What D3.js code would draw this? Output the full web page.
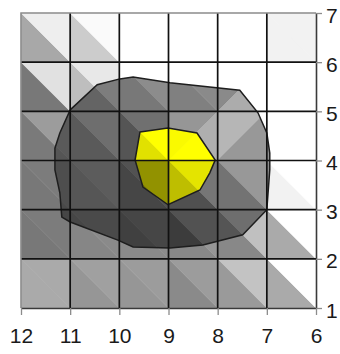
<!DOCTYPE html>
<html>
<head>
<meta charset="utf-8">
<script src="https://cdn.jsdelivr.net/npm/d3@7"></script>
<style>
  html, body { margin: 0; padding: 0; background: #fff; }
  svg { display: block; }
  .tick text { font-family: "Liberation Sans", Arial, sans-serif; font-size: 21px; fill: #1a1a1a; }
</style>
</head>
<body>
<svg id="chart" width="340" height="354"></svg>
<script>
// ---- data ----
const xTicks = [12, 11, 10, 9, 8, 7, 6];
const yTicks = [1, 2, 3, 4, 5, 6, 7];

// cell diagonal per row (top -> bottom), per column (left -> right): b = "\" , f = "/"
const diagonals = [
  "bbbbbb",
  "bbbbfb",
  "bbbffb",
  "bbbbbb",
  "bbbbbb",
  "bbbbbb"
];

// shading (0-255) per cell: [first triangle, second triangle]
// "\" : first = lower-left, second = upper-right ; "/" : first = upper-left, second = lower-right
const outerShade = [
  [[168, 238], [204, 250], [255, 255], [255, 255], [255, 255], [242, 242]],
  [[120, 225], [190, 232], [255, 255], [255, 255], [255, 255], [255, 255]],
  [[122, 156], [150, 200], [200, 230], [230, 255], [255, 255], [255, 255]],
  [[120, 124], [130, 140], [140, 150], [150, 190], [170, 230], [242, 255]],
  [[120, 124], [134, 138], [138, 140], [136, 150], [136, 192], [170, 255]],
  [[170, 170], [150, 160], [150, 156], [138, 156], [154, 195], [170, 255]]
];
const middleShade = [
  [[100, 120], [100, 125], [120, 140], [128, 138], [138, 170], [150, 150]],
  [[100, 120], [100, 125], [120, 140], [128, 138], [138, 172], [150, 150]],
  [[85, 90], [90, 110], [85, 112], [150, 175], [182, 152], [145, 152]],
  [[74, 78], [86, 92], [70, 82], [80, 118], [115, 152], [140, 150]],
  [[68, 70], [70, 74], [64, 70], [60, 82], [85, 110], [140, 150]],
  [[68, 70], [70, 74], [64, 70], [60, 82], [85, 110], [140, 150]]
];
const yellowShade = [
  [[255, 255], [255, 255], [255, 255], [255, 255], [255, 255], [255, 255]],
  [[255, 255], [255, 255], [255, 255], [255, 255], [255, 255], [255, 255]],
  [[255, 255], [255, 255], [225, 255], [250, 255], [255, 255], [255, 255]],
  [[150, 150], [150, 150], [122, 146], [190, 228], [255, 255], [255, 255]],
  [[150, 150], [150, 150], [150, 150], [150, 150], [150, 150], [150, 150]],
  [[150, 150], [150, 150], [150, 150], [150, 150], [150, 150], [150, 150]]
];

// contour band outlines (x, y in data units)
const outerBand = [
  [11.0, 5.03], [10.45, 5.54], [9.99, 5.66], [9.72, 5.70], [8.97, 5.58], [7.55, 5.43],
  [7.18, 4.97], [7.0, 4.56], [6.94, 4.15], [6.94, 3.81], [7.0, 3.0], [7.49, 2.49],
  [8.30, 2.28], [8.97, 2.22], [9.72, 2.24], [10.03, 2.38], [11.0, 2.75], [11.17, 2.85],
  [11.21, 3.34], [11.31, 3.81], [11.31, 4.25], [11.21, 4.56]
];
const innerBand = [
  [9.58, 4.58], [9.01, 4.66], [8.42, 4.56], [8.05, 4.01], [8.16, 3.75],
  [8.36, 3.40], [9.01, 3.10], [9.52, 3.46], [9.68, 4.01]
];

// ---- drawing ----
const svg = d3.select("#chart");
const x = d3.scaleLinear().domain([12, 6]).range([21, 316]);
const y = d3.scaleLinear().domain([1, 7]).range([308, 13]);

const cells = [];
for (let r = 0; r < 6; r++) {
  for (let c = 0; c < 6; c++) {
    const x0 = xTicks[c], x1 = xTicks[c + 1];
    const yTop = yTicks[6 - r], yBot = yTicks[5 - r];
    const TL = [x0, yTop], TR = [x1, yTop], BL = [x0, yBot], BR = [x1, yBot];
    if (diagonals[r][c] === "b") {
      cells.push({ r, c, k: 0, pts: [TL, BL, BR] });
      cells.push({ r, c, k: 1, pts: [TL, TR, BR] });
    } else {
      cells.push({ r, c, k: 0, pts: [TL, TR, BL] });
      cells.push({ r, c, k: 1, pts: [TR, BR, BL] });
    }
  }
}
const toPath = pts => "M" + pts.map(p => x(p[0]) + "," + y(p[1])).join("L") + "Z";
const gray = v => d3.rgb(v, v, v).toString();
const yel = v => d3.rgb(v, v, 0).toString();

const defs = svg.append("defs");
defs.append("clipPath").attr("id", "clipOuter").append("path").attr("d", toPath(outerBand));
defs.append("clipPath").attr("id", "clipInner").append("path").attr("d", toPath(innerBand));

function layer(shade, colorFn, clip) {
  const g = svg.append("g");
  if (clip) g.attr("clip-path", `url(#${clip})`);
  g.selectAll("path").data(cells).join("path")
    .attr("d", d => toPath(d.pts))
    .attr("fill", d => colorFn(shade[d.r][d.c][d.k]))
    .attr("stroke", d => colorFn(shade[d.r][d.c][d.k]))
    .attr("stroke-width", 0.6);
}
layer(outerShade, gray, null);
layer(middleShade, gray, "clipOuter");
svg.append("path").attr("d", toPath(outerBand))
  .attr("fill", "none").attr("stroke", "#1e1e1e").attr("stroke-width", 1.5);
layer(yellowShade, yel, "clipInner");
svg.append("path").attr("d", toPath(innerBand))
  .attr("fill", "none").attr("stroke", "#1e1e1e").attr("stroke-width", 1.5);

// grid lines
const grid = svg.append("g").attr("stroke", "#111").attr("stroke-width", 1.7);
grid.selectAll("line.v").data(xTicks.slice(1, -1)).join("line").attr("class", "v")
  .attr("x1", d => x(d)).attr("x2", d => x(d)).attr("y1", y(7)).attr("y2", y(1));
grid.selectAll("line.h").data(yTicks.slice(1, -1)).join("line").attr("class", "h")
  .attr("y1", d => y(d)).attr("y2", d => y(d)).attr("x1", x(12)).attr("x2", x(6));

// frame top/left
svg.append("path")
  .attr("d", `M${x(12)},${y(1)}V${y(7)}H${x(6)}`)
  .attr("fill", "none").attr("stroke", "#8c8c8c").attr("stroke-width", 1.5);

// axes
const xAxis = svg.append("g").attr("transform", `translate(0,${y(1)})`)
  .call(d3.axisBottom(x).tickValues(xTicks).tickFormat(d3.format("d"))
    .tickSize(7).tickSizeOuter(0).tickPadding(13));
const yAxis = svg.append("g").attr("transform", `translate(${x(6)},0)`)
  .call(d3.axisRight(y).tickValues(yTicks).tickFormat(d3.format("d"))
    .tickSize(6).tickSizeOuter(0).tickPadding(4));
[xAxis, yAxis].forEach(a => {
  a.select(".domain").attr("stroke", "#3a3a3a").attr("stroke-width", 1.6);
  a.selectAll(".tick line").attr("stroke", "#8c8c8c").attr("stroke-width", 1.3);
  a.attr("font-family", null).attr("font-size", null);
});
yAxis.selectAll(".tick text").attr("dy", "0.43em");
</script>
</body>
</html>
